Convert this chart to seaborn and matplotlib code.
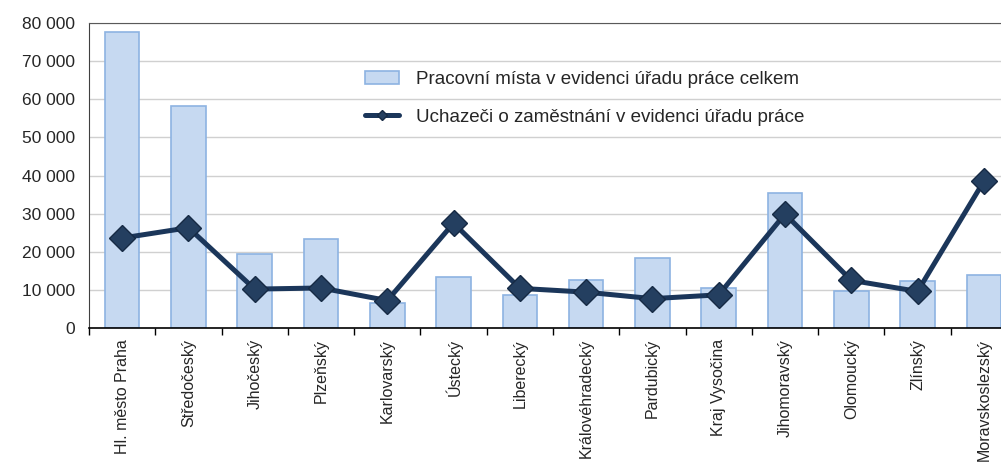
import numpy as np
import matplotlib.pyplot as plt
import matplotlib.ticker as mticker
from matplotlib.patches import Patch
from matplotlib.lines import Line2D
import pandas as pd
import seaborn as sns

regions = ['Hl. město Praha', 'Středočeský', 'Jihočeský', 'Plzeňský', 'Karlovarský',
           'Ústecký', 'Liberecký', 'Královéhradecký', 'Pardubický', 'Kraj Vysočina',
           'Jihomoravský', 'Olomoucký', 'Zlínský', 'Moravskoslezský']
pracovni_mista = [77600, 58200, 19500, 23300, 6600, 13400, 8600, 12700, 18400, 10400,
                  35500, 9800, 12400, 14000]
uchazeci = [23600, 26300, 10200, 10500, 7200, 27500, 10400, 9400, 7700, 8700,
            29900, 12500, 9600, 38500]

bar_label = 'Pracovní místa v evidenci úřadu práce celkem'
line_label = 'Uchazeči o zaměstnání v evidenci úřadu práce'

df = pd.DataFrame({'kraj': regions, 'mista': pracovni_mista, 'uchazeci': uchazeci})

sns.set_style('white')
plt.rcParams['font.family'] = ['Liberation Sans', 'DejaVu Sans']

fig = plt.figure(figsize=(10.01, 4.62), dpi=100)
ax = fig.add_axes([89 / 1001, 1 - 328 / 462, (1017 - 89) / 1001, 305 / 462])

bar_color = '#c6d9f1'
bar_edge = '#8db3e2'
line_color = '#1b365a'

sns.barplot(data=df, x='kraj', y='mista', color=bar_color, edgecolor=bar_edge,
            linewidth=1.2, width=0.52, saturation=1, ax=ax, zorder=2)
ax.plot(np.arange(len(regions)), df['uchazeci'], color=line_color, linewidth=3.6,
        marker='D', markersize=13, markerfacecolor='#243f60', markeredgecolor='#162a44',
        markeredgewidth=1, zorder=3)

ax.set_xlim(-0.5, len(regions) - 0.5)
ax.set_ylim(0, 80000)
ax.yaxis.set_major_locator(mticker.MultipleLocator(10000))
ax.yaxis.set_major_formatter(mticker.FuncFormatter(lambda v, p: f'{int(v):,}'.replace(',', ' ')))
ax.grid(axis='y', color='#d0d0d0', linewidth=1, zorder=0)
ax.set_axisbelow(True)

ax.set_xlabel('')
ax.set_ylabel('')
ax.set_xticks(np.arange(len(regions)))
ax.set_xticklabels(regions, rotation=90, fontsize=11.5)
ax.set_xticks(np.arange(len(regions)) - 0.5, minor=True)
ax.tick_params(axis='x', which='major', length=0, pad=8)
ax.tick_params(axis='x', which='minor', length=5, width=1, color='black', direction='out')
ax.tick_params(axis='y', length=4, width=1, color='#404040', direction='out', labelsize=12.5, pad=6)
ax.tick_params(axis='x', which='both', bottom=True)

for side in ['top', 'left', 'bottom']:
    ax.spines[side].set_visible(True)
ax.spines['right'].set_visible(False)
ax.spines['top'].set_color('#595959')
ax.spines['left'].set_color('#404040')
ax.spines['bottom'].set_color('black')
ax.spines['bottom'].set_linewidth(1.2)

handles = [Patch(facecolor=bar_color, edgecolor=bar_edge, linewidth=1.2),
           Line2D([0], [0], color=line_color, linewidth=3.6, marker='D', markersize=5,
                  markerfacecolor='#243f60', markeredgecolor='#162a44')]
leg = ax.legend(handles, [bar_label, line_label], loc='upper left',
                bbox_to_anchor=(0.297, 0.842), frameon=False, fontsize=13.5,
                handlelength=1.85, handletextpad=0.9, labelspacing=1.07,
                borderpad=0, borderaxespad=0)

fig.savefig('out.png', dpi=100)
